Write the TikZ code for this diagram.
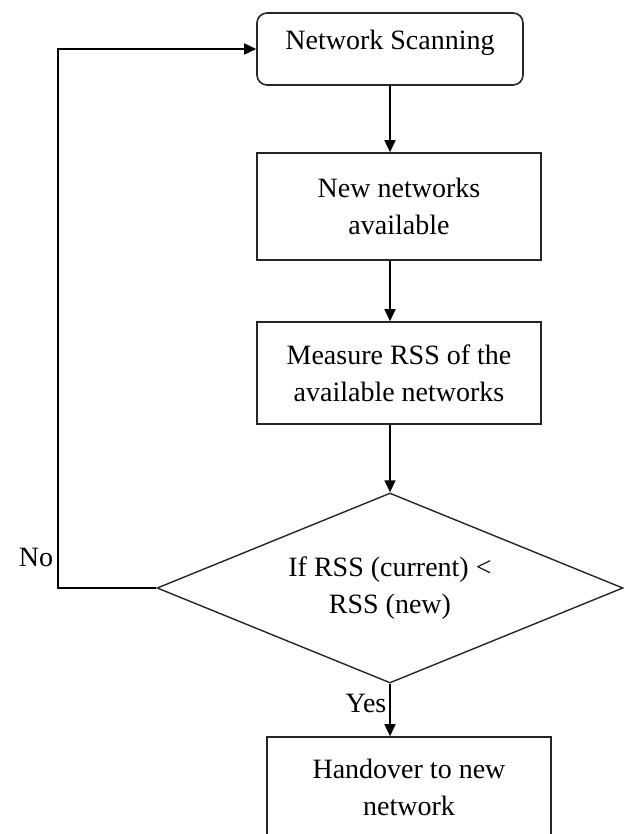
\documentclass[tikz,border=0pt]{standalone}
\usepackage{fontspec}
\setmainfont{Liberation Serif}
\usetikzlibrary{shapes.geometric,arrows.meta,positioning}

\begin{document}
\begin{tikzpicture}[
    x=1pt, y=-1pt,
    >={Triangle[length=12pt,width=11pt]},
    every node/.style={font=\fontsize{28}{37}\selectfont, align=center},
    box/.style={draw=black!85, rectangle, line width=1.6pt, minimum width=284pt, minimum height=102pt, inner sep=0pt},
    decision/.style={draw=black!85, diamond, aspect=2.45, line width=1.4pt, minimum width=466pt, minimum height=190pt, inner sep=0pt},
    flow/.style={->, draw=black, line width=1.6pt}
]
\clip (0,0) rectangle (624,834);
\node[box, rounded corners=10pt, minimum width=266pt, minimum height=0pt, text height=37pt, text depth=35pt] (scan) at (390,49) {Network Scanning};
\node[box, minimum height=107pt] (avail) at (399,206.5) {New networks\\available};
\node[box] (meas) at (399,373) {Measure RSS of the\\available networks};
\node[decision] (test) at (390,588) {If RSS (current) <\\RSS (new)};
\node[box, minimum height=100pt] (hand) at (409,787) {Handover to new\\network};
\node (nolbl) at (36,557) {No};
\node (yeslbl) at (366,703) {Yes};
\coordinate (turn) at (58,588);

\draw[flow] (scan.south) -- (scan.south |- avail.north);
\draw[flow] (scan.south |- avail.south) -- (scan.south |- meas.north);
\draw[flow] (scan.south |- meas.south) -- (test.north);
\draw[flow] (test.south) -- (test.south |- hand.north);
\draw[flow] (test.west) -- (turn) |- (scan.west);
\end{tikzpicture}
\end{document}
